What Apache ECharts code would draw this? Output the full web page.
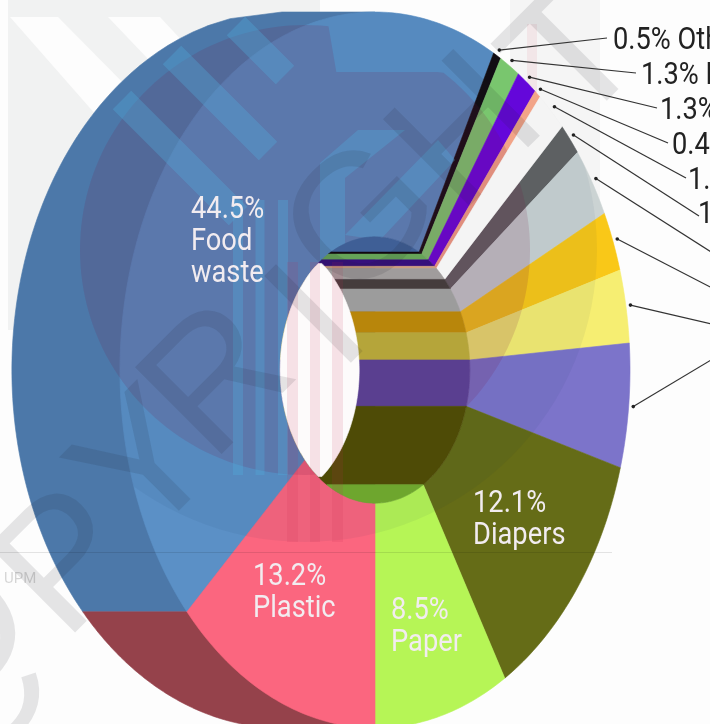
<!DOCTYPE html>
<html>
<head>
<meta charset="utf-8">
<style>html,body{margin:0;padding:0;background:#fdfdfd}#chart{width:710px;height:724px}</style>
<script src="https://cdn.jsdelivr.net/npm/echarts@6/dist/echarts.min.js"></script>
</head>
<body>
<div id="chart"></div>
<script>
// Municipal waste composition, percent by weight, clockwise from the food slice.
const wasteNames  = ['Food waste','Others','Metal','Rubber','Leather','Textile','Glass','Wood','Garden','Tin','Bottles','Diapers','Paper','Plastic'];
const wasteShares = [44.5,0.5,1.3,1.3,0.4,1.9,1.5,3.2,2.7,3.3,5.6,12.1,8.5,13.2];
const sliceColors = ['#5b90c6','#120c10','#80cf70','#6a06e2','#ffab8c','#f4f4f4','#626464','#cbd3d3','#f9c818','#f6ee72','#7c74ca','#656c17','#b6f556','#fb667f'];
const bandColors  = ['#3f5f96','#120810','#66a458','#36107c','#d0a080','#a09c9c','#453c3c','#9c9c9c','#b8860b','#b5a53a','#5a3f90','#4e4b06','#6ea62e','#000'];
const backColors  = {upper:'#4c78a9', lower:'#95424b'};
const BRIGHT_SLICE = 5;

// Unit-circle drawing space: the ring's rim has radius 1 on both axes.
const HOLE = 0.372;
const BACK = {cx:-0.365, rx:1.059};
const LENS = {cx:-0.427, rx:0.365, ry:0.372};
const START_ANGLE = 180 + wasteShares[13] * 3.6;

const rad = d => d * Math.PI / 180;
const polar = (deg, r) => [r * Math.sin(rad(deg)), r * Math.cos(rad(deg))];

const sliceAngles = [];
wasteShares.reduce((acc, share) => {
  sliceAngles.push([acc, acc + share * 3.6]);
  return acc + share * 3.6;
}, START_ANGLE);

function arcPoints(a0, a1, r) {
  const n = Math.max(2, Math.ceil(Math.abs(a1 - a0)));
  const pts = [];
  for (let i = 0; i <= n; i++) pts.push(polar(a0 + (a1 - a0) * i / n, r));
  return pts;
}

const polygon = (api, pts, fill) => ({
  type: 'polygon',
  shape: {points: pts.map(p => api.coord(p))},
  style: {fill: fill, stroke: fill, lineWidth: 0.6}
});

// Offset backing shape behind the ring, split at the plastic boundary height.
const splitV = Math.cos(rad(START_ANGLE));
function backOutline(v0, v1) {
  const pts = [];
  for (let i = 0; i <= 90; i++) {
    const v = v0 + (v1 - v0) * i / 90;
    pts.push([BACK.cx - BACK.rx * Math.sqrt(Math.max(0, 1 - v * v)), v]);
  }
  return pts;
}

// Horizontal band inside the hole for the part of a slice on the right half.
function bandPoints(a0, a1) {
  const right = arcPoints(a0, a1, HOLE);
  const left = right.slice().reverse().map(p => [-p[0], p[1]]);
  return right.concat(left);
}
function bandRange(i) {
  const s = sliceAngles[i][0], e = sliceAngles[i][1];
  if (s < 360 && e > 360) return [0, e - 360];
  const from = s >= 360 ? s - 360 : s, to = e > 360 ? e - 360 : e;
  if (from >= 180) return null;
  return [from, Math.min(to, 180)];
}

function lensPoints() {
  const right = [], left = [];
  for (let i = 0; i <= 120; i++) {
    const v = -LENS.ry + 2 * LENS.ry * i / 120;
    const a = -Math.sqrt(Math.max(0, HOLE * HOLE - v * v));
    const b = LENS.cx + LENS.rx * Math.sqrt(Math.max(0, 1 - (v / LENS.ry) * (v / LENS.ry)));
    if (b > a) { left.push([a, v]); right.push([b, v]); }
  }
  return left.concat(right.reverse());
}

// Callout leaders: slice index, then where the leader stops at its label.
const calloutSlices = [1,2,3,4,5,6,7,8,9,10];
const calloutEnds = [[607,38],[636,73],[657,108],[668,143],[686,178],[699,216],[716,255],[716,290],[716,325],[716,357]];
const calloutLabelX = [613,641,660,672,688,698];
const calloutLabelY = [41,76,111,146,181,215];

// Inside labels: slice index, left edge and vertical centre of the block.
const innerLabels = [
  {slice:0,  lines:['Food','waste'], x:191, y:242},
  {slice:13, lines:['Plastic'],      x:253, y:593},
  {slice:12, lines:['Paper'],        x:391, y:627},
  {slice:11, lines:['Diapers'],      x:473, y:520}
];
const FONT = 'Roboto, "Noto Sans", sans-serif';
const labelText = (style) => Object.assign({fontFamily:FONT, fontSize:31, align:'left', verticalAlign:'middle', lineHeight:32}, style);

// Faint institutional backdrop printed across the sheet.
function discPoints(cx, cy, r, topLimit) {
  const pts = [];
  for (let i = 0; i < 180; i++) {
    const a = i * 2 * Math.PI / 180;
    let x = cx + r * Math.cos(a), y = cy + r * Math.sin(a);
    if (topLimit && x > 335 && x < 465 && y < 72) y = 72;
    pts.push([x, y]);
  }
  return pts;
}
const CREST_LIGHT = 'rgba(80,170,215,0.36)';
const pillarX = [[287,298],[310,320],[332,343]];
const crestDiagonals = [
  [[122,100],[238,216]],
  [[172,55],[268,151]],
  [[236,26],[285,75]]
];
const crestUprights = [[238,10],[260,9],[283,10]];
const crestBlocks = [
  [[320,163],[358,130],[405,130],[345,178],[345,262],[320,262]],
  [[345,235],[438,140],[455,160],[380,240]]
];
const letterMarks = [['C',-18,700],['O',-40,640],['P',72,566],['Y',150,470],['R',222,384],['I',322,322],['G',366,224],['H',470,136],['T',578,60]];
const graphics = [
  {type:'rect', z:0, shape:{x:8,y:0,width:312,height:330}, style:{fill:'#f1f2f2'}},
  {type:'polygon', z:0, shape:{points:[[10,17],[58,17],[150,110],[118,140]]}, style:{fill:'#fdfdfd'}},
  {type:'polygon', z:0, shape:{points:[[108,17],[160,17],[200,60],[168,80]]}, style:{fill:'#fdfdfd'}},
  {type:'rect', z:0, shape:{x:510,y:0,width:90,height:230}, style:{fill:'rgba(0,0,0,0.03)'}},
  {type:'rect', z:0, shape:{x:527,y:24,width:10,height:130}, style:{fill:'rgba(220,60,90,0.08)'}},
  {type:'polygon', z:13, shape:{points:discPoints(305,250,225,true)}, style:{fill:'rgba(120,20,70,0.15)'}}
];
crestDiagonals.forEach(l => graphics.push({type:'line', z:14,
  shape:{x1:l[0][0],y1:l[0][1],x2:l[1][0],y2:l[1][1]}, style:{stroke:CREST_LIGHT, lineWidth:26}}));
crestUprights.forEach(u => graphics.push({type:'rect', z:14,
  shape:{x:u[0]-u[1]/2,y:200,width:u[1],height:275}, style:{fill:CREST_LIGHT}}));
crestBlocks.forEach(b => graphics.push({type:'polygon', z:14, shape:{points:b}, style:{fill:CREST_LIGHT}}));
pillarX.forEach(p => graphics.push({type:'rect', z:30, shape:{x:p[0],y:262,width:p[1]-p[0],height:280}, style:{fill:'rgba(200,40,80,0.12)'}}));
letterMarks.forEach(m => graphics.push({
  type:'text', z:31, x:m[1], y:m[2], rotation:Math.PI / 4,
  style:{text:m[0], fontFamily:'"Liberation Sans"', fontSize:178, fill:'rgba(30,30,40,0.11)', align:'center', verticalAlign:'middle'}
}));
graphics.push({type:'rect', z:31, shape:{x:0,y:552,width:612,height:1}, style:{fill:'rgba(0,0,0,0.1)'}});
graphics.push({type:'text', z:31, x:4, y:572, style:{text:'UPM', fontFamily:FONT, fontSize:15, fill:'rgba(0,0,0,0.16)'}});

const ringItem = (params, api) => {
  const i = api.value(0), a0 = api.value(1), a1 = api.value(2);
  const pts = arcPoints(a0, a1, 1).concat(arcPoints(a1, a0, HOLE));
  return polygon(api, pts, sliceColors[i]);
};
const ringData = sliceAngles.map((a, i) => [i, a[0], a[1]]);

const option = {
  animation:false,
  backgroundColor:'#fdfdfd',
  grid:{left:0,right:0,top:0,bottom:0},
  xAxis:{type:'value', show:false, min:-375/255, max:335/255},
  yAxis:{type:'value', show:false, min:-354/358, max:370/358},
  graphic:graphics,
  series:[
    { // backing shape
      type:'custom', z:5, silent:true, clip:false, data:[[0],[1]],
      renderItem(params, api) {
        if (api.value(0) === 0) {
          const pts = backOutline(1, splitV).concat([[0, splitV], [0, 1]]);
          return polygon(api, pts, backColors.upper);
        }
        const pts = backOutline(splitV, -1).concat([[0.1, -1], [0, splitV]]);
        return polygon(api, pts, backColors.lower);
      }
    },
    { // ring slices
      type:'custom', z:6, silent:true, clip:false,
      data:ringData.filter(d => d[0] !== BRIGHT_SLICE),
      renderItem:ringItem
    },
    { // the pale slice sits above the backdrop tint
      type:'custom', z:15, silent:true, clip:false,
      data:ringData.filter(d => d[0] === BRIGHT_SLICE),
      renderItem:ringItem
    },
    { // darker bands seen through the hole
      type:'custom', z:16, silent:true, clip:false,
      data:sliceAngles.map((a, i) => [i]),
      renderItem(params, api) {
        const i = api.value(0), range = bandRange(i);
        if (!range || range[1] <= range[0]) return;
        return polygon(api, bandPoints(range[0], range[1]), bandColors[i]);
      }
    },
    { // soft outer tone of the backdrop, kept to the ring
      type:'custom', z:12, silent:true, clip:false, data:[[0]],
      renderItem(params, api) {
        const rim = arcPoints(0, 360, 1).map(p => api.coord(p));
        return {type:'circle', shape:{cx:305,cy:250,r:292}, style:{fill:'rgba(0,30,70,0.05)'},
          clipPath:{type:'polygon', shape:{points:rim}}};
      }
    },
    { // open part of the hole
      type:'custom', z:20, silent:true, clip:false, data:[[0]],
      renderItem(params, api) { return polygon(api, lensPoints(), '#fdfbfb'); }
    },
    { // leaders to the small slices
      type:'custom', z:40, silent:true, clip:false,
      data:calloutSlices.map((s, k) => [s, k]),
      renderItem(params, api) {
        const s = api.value(0), k = api.value(1);
        const mid = (sliceAngles[s][0] + sliceAngles[s][1]) / 2;
        const from = api.coord(polar(mid, 1.018));
        const end = calloutEnds[k];
        return {type:'group', children:[
          {type:'line', shape:{x1:from[0],y1:from[1],x2:end[0],y2:end[1]}, style:{stroke:'#333',lineWidth:1.2}},
          {type:'circle', shape:{cx:from[0],cy:from[1],r:1.8}, style:{fill:'#222'}}
        ]};
      }
    },
    { // callout texts, the outer ones run off the sheet
      type:'custom', z:41, silent:true, clip:false,
      data:calloutLabelX.map((x, k) => [calloutSlices[k], k]),
      renderItem(params, api) {
        const s = api.value(0), k = api.value(1);
        return {type:'text', x:calloutLabelX[k], y:calloutLabelY[k], scaleX:0.88,
          style:labelText({text:wasteShares[s].toFixed(1) + '% ' + wasteNames[s], fill:'#222'})};
      }
    },
    { // labels inside the ring
      type:'custom', z:41, silent:true, clip:false,
      data:innerLabels.map((l, k) => [k]),
      renderItem(params, api) {
        const l = innerLabels[api.value(0)];
        return {type:'text', x:l.x, y:l.y, scaleX:0.88,
          style:labelText({text:[wasteShares[l.slice].toFixed(1) + '%'].concat(l.lines).join('\n'), fill:'#f2ecf0'})};
      }
    }
  ]
};
echarts.init(document.getElementById('chart'), null, {renderer:'canvas'}).setOption(option);
</script>
</body>
</html>
